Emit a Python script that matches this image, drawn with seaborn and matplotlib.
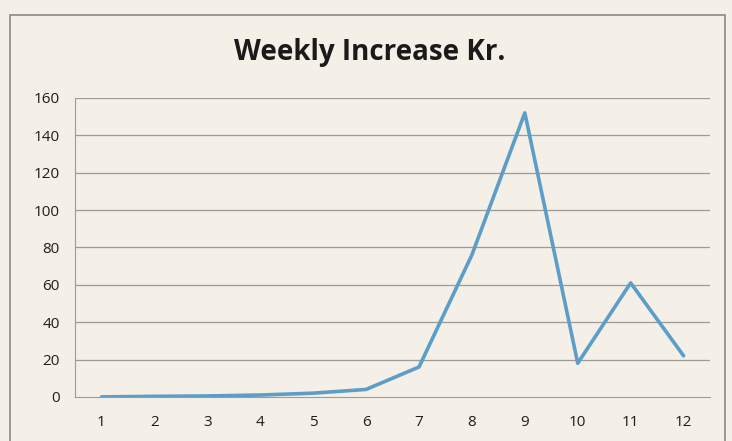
import matplotlib
matplotlib.use("Agg")
import matplotlib.pyplot as plt
import seaborn as sns
import pandas as pd
from matplotlib.patches import Rectangle

weeks = [1, 2, 3, 4, 5, 6, 7, 8, 9, 10, 11, 12]
increase = [0, 0.3, 0.5, 1, 2, 4, 16, 76, 152, 18, 61, 22]
yticks = [0, 20, 40, 60, 80, 100, 120, 140, 160]

df = pd.DataFrame({"week": weeks, "increase": increase})

sns.set_style("white")
plt.rcParams["font.family"] = ["Open Sans", "DejaVu Sans"]

paper = "#f4efe7"
grid = "#9a9c98"
fig = plt.figure(figsize=(7.32, 4.41), dpi=100, facecolor=paper)
ax = fig.add_axes([0.1025, 0.10, 0.8675, 0.678])
ax.set_facecolor(paper)

# rahmen um das diagramm
fig.patches.append(Rectangle((0.014, -0.05), 0.976, 1.016, transform=fig.transFigure,
                             fill=False, edgecolor="#8a8a86", linewidth=1.2))

for t in yticks[1:]:
    ax.axhline(t, color=grid, linewidth=0.9, zorder=0)

sns.lineplot(data=df, x="week", y="increase", ax=ax, color="#5c9ec8", linewidth=2.6)

ax.set_xlim(0.5, 12.5)
ax.set_ylim(0, 160)
ax.set_yticks(yticks)
ax.set_xticks(weeks)
ax.set_xticks([w + 0.5 for w in weeks], minor=True)
ax.tick_params(axis="x", which="major", length=0, pad=13, labelsize=11, colors="#1e1e1e")
ax.tick_params(axis="x", which="minor", length=5, color=grid, direction="out")
ax.tick_params(axis="y", length=5, color=grid, labelsize=11, colors="#1e1e1e", pad=6)
ax.set_xlabel("")
ax.set_ylabel("")

for side in ["top", "right"]:
    ax.spines[side].set_visible(False)
ax.spines["left"].set_color(grid)
ax.spines["bottom"].set_color(grid)

fig.text(0.505, 0.882, "Weekly Increase Kr.", ha="center", va="center",
         fontsize=20, fontweight="bold", color="#1a1a1a")

fig.savefig("out.png", dpi=100, facecolor=paper)
